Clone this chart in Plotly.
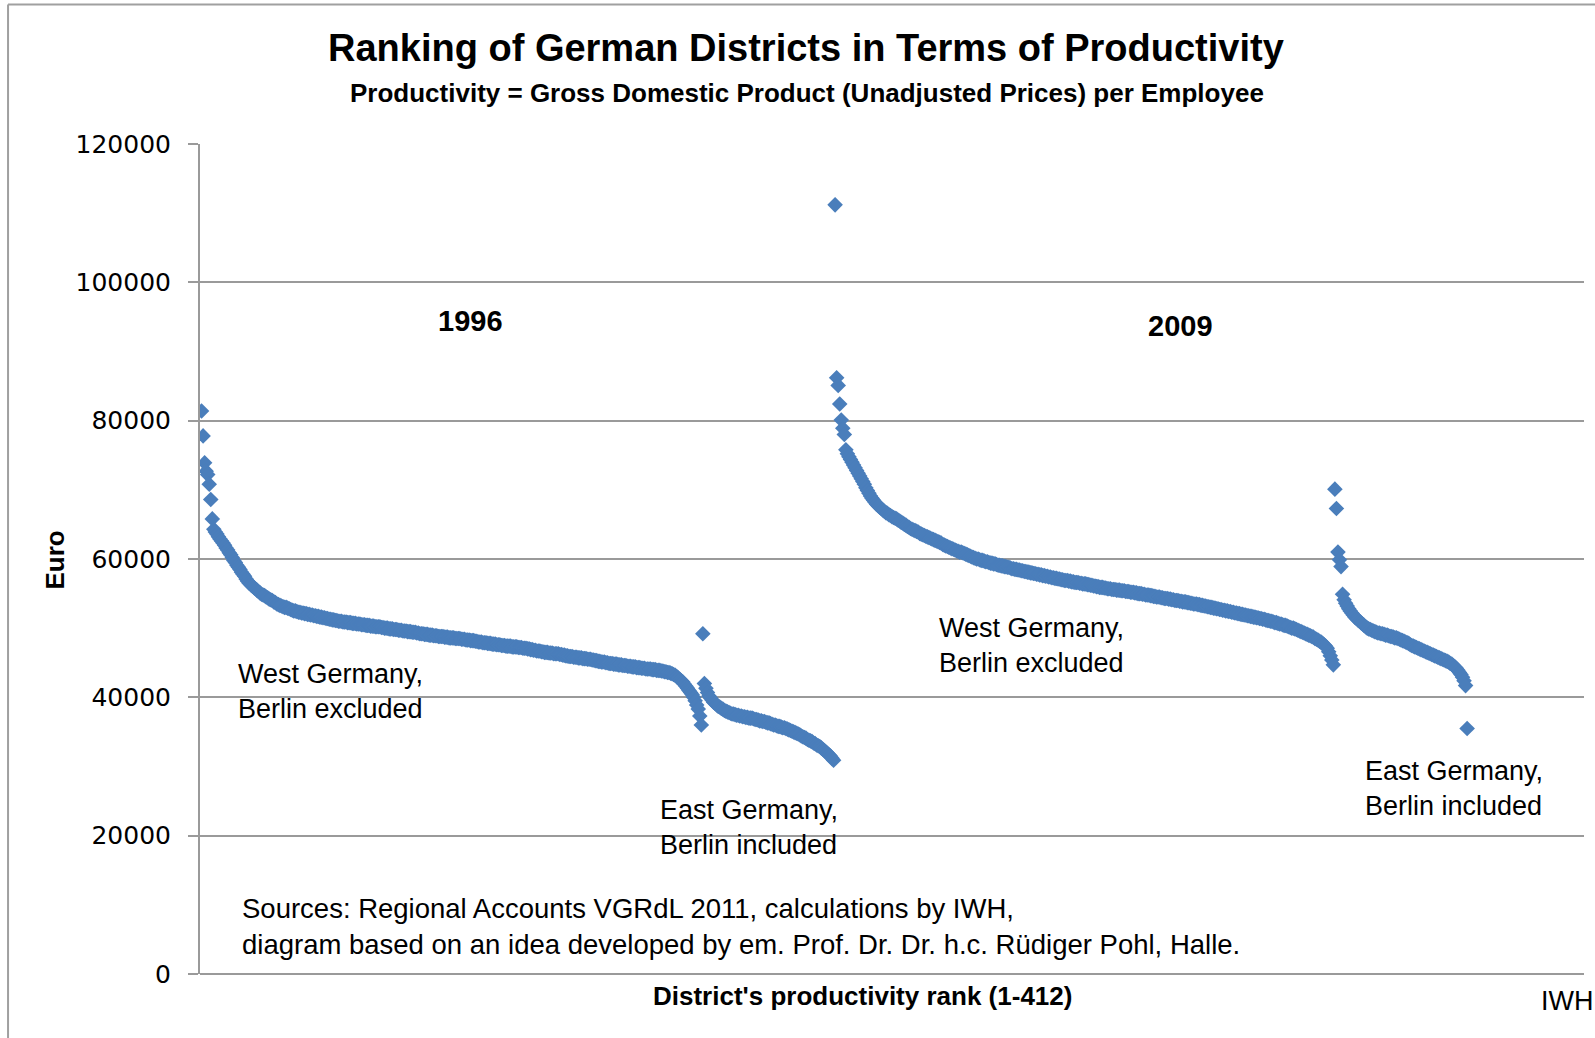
import plotly.graph_objects as go

# Productivity (thousand euro per employee), sorted by rank
west_1996 = [
    81.4, 77.8, 73.9, 72.7, 72.2, 70.8, 68.6, 65.8, 64.3, 63.9,
    63.6, 63.2, 62.9, 62.6, 62.3, 62.0, 61.6, 61.3, 60.9, 60.6,
    60.2, 59.8, 59.5, 59.1, 58.8, 58.5, 58.1, 57.8, 57.5, 57.1,
    56.8, 56.5, 56.3, 56.1, 55.9, 55.7, 55.5, 55.3, 55.1, 54.9,
    54.8, 54.7, 54.5, 54.4, 54.2, 54.1, 54.0, 53.8, 53.7, 53.5,
    53.4, 53.3, 53.2, 53.1, 53.0, 53.0, 52.9, 52.8, 52.7, 52.6,
    52.5, 52.5, 52.4, 52.3, 52.3, 52.2, 52.2, 52.1, 52.1, 52.0,
    52.0, 51.9, 51.9, 51.8, 51.8, 51.7, 51.7, 51.6, 51.6, 51.5,
    51.5, 51.4, 51.4, 51.3, 51.3, 51.2, 51.2, 51.1, 51.1, 51.0,
    51.0, 51.0, 50.9, 50.9, 50.9, 50.8, 50.8, 50.8, 50.7, 50.7,
    50.7, 50.6, 50.6, 50.6, 50.5, 50.5, 50.5, 50.4, 50.4, 50.4,
    50.3, 50.3, 50.3, 50.2, 50.2, 50.2, 50.2, 50.1, 50.1, 50.0,
    50.0, 50.0, 49.9, 49.9, 49.9, 49.8, 49.8, 49.8, 49.7, 49.7,
    49.7, 49.6, 49.6, 49.6, 49.5, 49.5, 49.5, 49.4, 49.4, 49.4,
    49.3, 49.3, 49.2, 49.2, 49.2, 49.1, 49.1, 49.1, 49.0, 49.0,
    49.0, 48.9, 48.9, 48.9, 48.8, 48.8, 48.8, 48.8, 48.7, 48.7,
    48.7, 48.6, 48.6, 48.6, 48.6, 48.5, 48.5, 48.5, 48.5, 48.4,
    48.4, 48.4, 48.3, 48.3, 48.3, 48.2, 48.2, 48.2, 48.1, 48.1,
    48.0, 48.0, 48.0, 47.9, 47.9, 47.9, 47.8, 47.8, 47.8, 47.7,
    47.7, 47.7, 47.6, 47.6, 47.6, 47.5, 47.5, 47.5, 47.4, 47.4,
    47.4, 47.4, 47.3, 47.3, 47.3, 47.3, 47.2, 47.2, 47.2, 47.1,
    47.1, 47.1, 47.0, 47.0, 46.9, 46.9, 46.8, 46.8, 46.7, 46.7,
    46.7, 46.6, 46.6, 46.5, 46.5, 46.5, 46.4, 46.4, 46.4, 46.3,
    46.3, 46.3, 46.3, 46.2, 46.2, 46.1, 46.1, 46.0, 46.0, 45.9,
    45.9, 45.9, 45.8, 45.8, 45.8, 45.7, 45.7, 45.7, 45.6, 45.6,
    45.6, 45.5, 45.5, 45.5, 45.4, 45.4, 45.3, 45.3, 45.2, 45.2,
    45.1, 45.1, 45.1, 45.0, 45.0, 44.9, 44.9, 44.9, 44.8, 44.8,
    44.8, 44.7, 44.7, 44.7, 44.6, 44.6, 44.6, 44.5, 44.5, 44.5,
    44.4, 44.4, 44.4, 44.3, 44.3, 44.3, 44.2, 44.2, 44.2, 44.1,
    44.1, 44.1, 44.1, 44.0, 44.0, 44.0, 43.9, 43.9, 43.9, 43.8,
    43.8, 43.7, 43.7, 43.6, 43.6, 43.5, 43.4, 43.3, 43.2, 43.0,
    42.8, 42.6, 42.4, 42.2, 41.9, 41.6, 41.3, 41.0, 40.7, 40.4,
    40.0, 39.5, 38.9, 38.3, 37.3, 36.0,
]

east_1996 = [
    49.2, 42.0, 41.3, 40.7, 40.2, 39.9, 39.6, 39.3, 39.1, 38.9,
    38.7, 38.6, 38.4, 38.3, 38.1, 38.0, 37.9, 37.8, 37.7, 37.6,
    37.6, 37.5, 37.4, 37.4, 37.3, 37.3, 37.2, 37.2, 37.1, 37.1,
    37.0, 37.0, 37.0, 36.9, 36.8, 36.8, 36.7, 36.6, 36.6, 36.5,
    36.5, 36.4, 36.3, 36.3, 36.2, 36.1, 36.0, 36.0, 35.9, 35.8,
    35.8, 35.7, 35.6, 35.6, 35.5, 35.4, 35.3, 35.2, 35.1, 35.0,
    34.9, 34.8, 34.7, 34.6, 34.4, 34.3, 34.2, 34.1, 33.9, 33.8,
    33.7, 33.6, 33.4, 33.3, 33.1, 33.0, 32.9, 32.7, 32.5, 32.3,
    32.1, 31.9, 31.7, 31.5, 31.2, 30.9,
]

west_2009 = [
    111.2, 86.2, 85.1, 82.4, 80.1, 78.9, 78.0, 75.8, 75.2, 74.8,
    74.4, 74.0, 73.6, 73.2, 72.8, 72.4, 72.0, 71.6, 71.2, 70.8,
    70.3, 69.9, 69.5, 69.1, 68.8, 68.5, 68.2, 67.9, 67.7, 67.5,
    67.3, 67.1, 66.9, 66.7, 66.6, 66.4, 66.3, 66.1, 66.0, 65.9,
    65.8, 65.6, 65.5, 65.3, 65.2, 65.0, 64.9, 64.7, 64.6, 64.4,
    64.3, 64.2, 64.1, 64.0, 63.9, 63.7, 63.6, 63.5, 63.4, 63.3,
    63.2, 63.1, 63.0, 62.9, 62.8, 62.7, 62.6, 62.5, 62.4, 62.3,
    62.1, 62.0, 61.9, 61.8, 61.7, 61.6, 61.5, 61.4, 61.3, 61.2,
    61.1, 61.0, 61.0, 60.9, 60.8, 60.7, 60.6, 60.5, 60.4, 60.3,
    60.2, 60.1, 60.0, 60.0, 59.9, 59.8, 59.8, 59.7, 59.6, 59.6,
    59.5, 59.4, 59.4, 59.3, 59.3, 59.2, 59.1, 59.1, 59.0, 59.0,
    58.9, 58.9, 58.8, 58.8, 58.7, 58.6, 58.6, 58.5, 58.5, 58.4,
    58.4, 58.3, 58.3, 58.2, 58.2, 58.1, 58.1, 58.0, 58.0, 57.9,
    57.9, 57.8, 57.8, 57.7, 57.7, 57.6, 57.6, 57.5, 57.5, 57.4,
    57.4, 57.3, 57.3, 57.2, 57.2, 57.1, 57.1, 57.0, 57.0, 56.9,
    56.9, 56.9, 56.8, 56.8, 56.7, 56.7, 56.6, 56.6, 56.6, 56.5,
    56.5, 56.4, 56.4, 56.4, 56.3, 56.3, 56.2, 56.2, 56.1, 56.1,
    56.0, 56.0, 55.9, 55.9, 55.9, 55.8, 55.8, 55.7, 55.7, 55.7,
    55.6, 55.6, 55.6, 55.5, 55.5, 55.5, 55.4, 55.4, 55.4, 55.3,
    55.3, 55.3, 55.2, 55.2, 55.2, 55.1, 55.1, 55.0, 55.0, 55.0,
    54.9, 54.9, 54.8, 54.8, 54.8, 54.7, 54.7, 54.6, 54.6, 54.5,
    54.5, 54.5, 54.4, 54.4, 54.3, 54.3, 54.3, 54.2, 54.2, 54.1,
    54.1, 54.0, 54.0, 54.0, 53.9, 53.9, 53.8, 53.8, 53.8, 53.7,
    53.7, 53.6, 53.6, 53.5, 53.5, 53.5, 53.4, 53.4, 53.3, 53.3,
    53.2, 53.2, 53.1, 53.1, 53.0, 53.0, 52.9, 52.9, 52.8, 52.8,
    52.7, 52.7, 52.6, 52.6, 52.5, 52.5, 52.4, 52.4, 52.3, 52.3,
    52.2, 52.2, 52.1, 52.1, 52.0, 52.0, 51.9, 51.9, 51.8, 51.8,
    51.7, 51.7, 51.6, 51.6, 51.5, 51.5, 51.4, 51.4, 51.3, 51.3,
    51.2, 51.1, 51.1, 51.0, 51.0, 50.9, 50.8, 50.8, 50.7, 50.6,
    50.6, 50.5, 50.4, 50.4, 50.3, 50.2, 50.1, 50.0, 50.0, 49.9,
    49.8, 49.7, 49.6, 49.5, 49.4, 49.3, 49.2, 49.1, 49.0, 48.9,
    48.8, 48.7, 48.5, 48.4, 48.3, 48.1, 48.0, 47.8, 47.6, 47.4,
    47.1, 46.6, 46.0, 45.4, 44.7,
]

east_2009 = [
    70.1, 67.3, 61.0, 59.9, 58.9, 54.9, 54.1, 53.6, 53.2, 52.8,
    52.5, 52.2, 51.9, 51.6, 51.4, 51.2, 51.0, 50.8, 50.6, 50.4,
    50.2, 50.0, 49.9, 49.8, 49.7, 49.6, 49.5, 49.4, 49.3, 49.3,
    49.2, 49.2, 49.1, 49.0, 49.0, 48.9, 48.8, 48.8, 48.7, 48.6,
    48.6, 48.5, 48.4, 48.3, 48.2, 48.1, 48.0, 47.9, 47.8, 47.6,
    47.5, 47.4, 47.3, 47.2, 47.1, 47.0, 46.9, 46.8, 46.7, 46.6,
    46.5, 46.4, 46.3, 46.2, 46.1, 46.0, 45.9, 45.8, 45.7, 45.6,
    45.5, 45.4, 45.3, 45.2, 45.1, 44.9, 44.8, 44.6, 44.4, 44.2,
    43.9, 43.6, 43.3, 42.9, 42.4, 41.7, 35.5,
]

series = [west_1996, east_1996, west_2009, east_2009]
y_ticks = [0, 20000, 40000, 60000, 80000, 100000, 120000]

BLUE = "#4a7ebb"
GRID = "#9a9a9a"
TXT = "Liberation Sans, Arial, sans-serif"

fig = go.Figure()
start = 1
for s in series:
    xs = list(range(start, start + len(s)))
    fig.add_trace(go.Scatter(
        x=xs, y=[v * 1000 for v in s], mode="markers",
        marker=dict(symbol="diamond", size=12, color=BLUE, line=dict(width=0)),
        showlegend=False, hoverinfo="x+y"))
    start += len(s)

fig.update_layout(
    width=1595, height=1038, autosize=False,
    margin=dict(l=200, r=11, t=144, b=64),
    paper_bgcolor="white", plot_bgcolor="white",
    font=dict(family=TXT, color="black"),
)
fig.update_xaxes(range=[0, 900], showgrid=False, zeroline=False,
                 showticklabels=False, ticks="", showline=False)
fig.update_yaxes(range=[0, 120000], tickvals=y_ticks,
                 ticktext=[str(v) for v in y_ticks],
                 showgrid=True, gridcolor=GRID, gridwidth=2,
                 zeroline=True, zerolinecolor=GRID, zerolinewidth=2,
                 showline=True, linecolor=GRID, linewidth=2,
                 ticks="outside", ticklen=10, tickcolor=GRID, tickwidth=2,
                 ticklabelstandoff=12,
                 tickfont=dict(family="DejaVu Sans, Verdana, sans-serif", size=25, color="black"))

ann = []
def A(text, x, y, xref="x", yref="y", size=27, bold=False, xanchor="left", yanchor="middle", angle=0):
    t = f"<b>{text}</b>" if bold else text
    ann.append(dict(text=t, x=x, y=y, xref=xref, yref=yref, showarrow=False,
                    xanchor=xanchor, yanchor=yanchor, align="left", textangle=angle,
                    font=dict(family=TXT, size=size, color="black")))

A("Ranking of German Districts in Terms of Productivity", 0.4377, 1.1161, "paper", "paper", size=38, bold=True, xanchor="center")
A("Productivity = Gross Domestic Product (Unadjusted Prices) per Employee", 0.4384, 1.0612, "paper", "paper", size=26, bold=True, xanchor="center")
A("Euro", -0.1044, 0.4987, "paper", "paper", size=26, bold=True, xanchor="center", angle=-90)
A("District's productivity rank (1-412)", 0.4786, -0.0271, "paper", "paper", size=26, bold=True, xanchor="center")
A("IWH", 1.0076, -0.0331, "paper", "paper", size=27, xanchor="right")
A("1996", 175.6, 94420, size=29, bold=True, xanchor="center")
A("2009", 637.9, 93680, size=29, bold=True, xanchor="center")
A("West Germany,<br>Berlin excluded", 23.4, 40810)
A("East Germany,<br>Berlin included", 297.8, 21250)
A("West Germany,<br>Berlin excluded", 479.2, 47430)
A("East Germany,<br>Berlin included", 756, 26760)
A("Sources: Regional Accounts VGRdL 2011, calculations by IWH,<br>diagram based on an idea developed by em. Prof. Dr. Dr. h.c. Rüdiger Pohl, Halle.", 26, 6910, size=27.5)
fig.update_layout(annotations=ann)

# outer chart frame (left and top edges)
fig.add_shape(type="line", xref="paper", yref="paper", x0=-0.1387, x1=1.01, y0=1.168, y1=1.168,
              line=dict(color="#a0a0a0", width=2))
fig.add_shape(type="line", xref="paper", yref="paper", x0=-0.1387, x1=-0.1387, y0=1.168, y1=-0.08,
              line=dict(color="#a0a0a0", width=2))

fig.write_html("out.html", config={"displayModeBar": False},
               post_script="document.body.style.margin='0';")
